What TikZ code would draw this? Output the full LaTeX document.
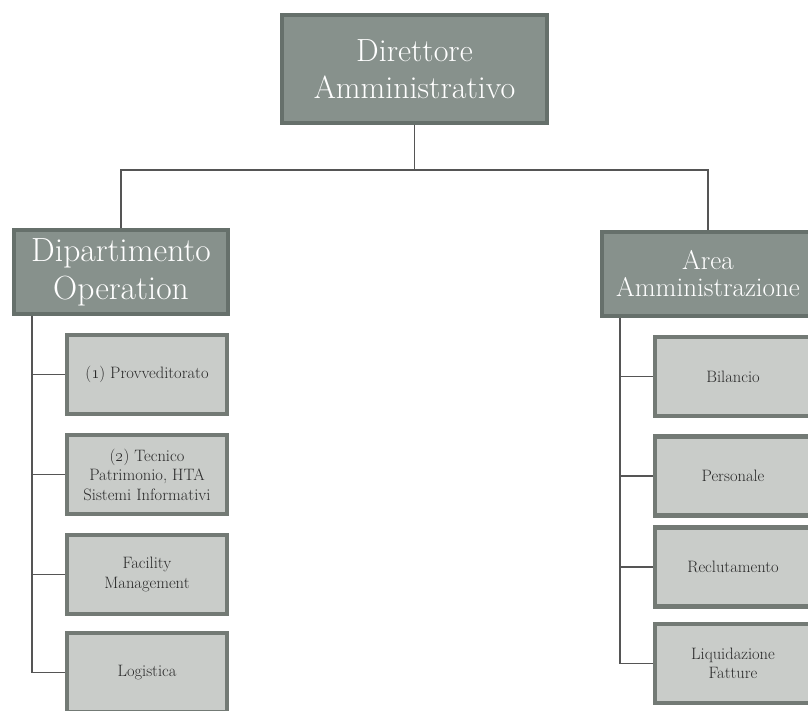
\documentclass[tikz,border=0pt]{standalone}
\definecolor{boxdk}{HTML}{66706B}
\definecolor{fillDk}{HTML}{87918C}
\definecolor{boxlt}{HTML}{737A75}
\definecolor{fillLt}{HTML}{C9CCC9}
\definecolor{txt}{HTML}{2A2A2A}
\definecolor{lineC}{HTML}{555555}
\begin{document}
\begin{tikzpicture}[x=1pt,y=-1pt,
  dark/.style={draw=boxdk, fill=fillDk, line width=4pt, text=white, align=center, inner sep=0pt},
  light/.style={draw=boxlt, fill=fillLt, line width=4.5pt, text=txt, align=center, inner sep=0pt,
    minimum height=79pt, font=\fontsize{16.5}{19.5}\selectfont},
  conn/.style={draw=lineC, line width=1.2pt}]
\useasboundingbox (0,0) rectangle (808,711);
\clip (0,0) rectangle (808,711);
\fill[white] (0,0) rectangle (808,711);

\node[dark, minimum width=265pt, minimum height=108pt, font=\fontsize{32}{37}\selectfont]
  (top) at (414.5,69) {Direttore\\Amministrativo};
\node[dark, minimum width=214pt, minimum height=84pt, font=\fontsize{33.5}{38}\selectfont]
  (dop) at (121,272) {Dipartimento\\Operation};
\node[dark, minimum width=212pt, minimum height=84pt, font=\fontsize{27}{27}\selectfont]
  (aam) at (708,274) {Area\\Amministrazione};

\node[light, minimum width=160pt] (l1) at (147,374.5) {(\oldstylenums{1}) Provveditorato};
\node[light, minimum width=160pt] (l2) at (147,474.5) {(\oldstylenums{2}) Tecnico\\Patrimonio, HTA\\Sistemi Informativi};
\node[light, minimum width=160pt] (l3) at (147,574.5) {Facility\\Management};
\node[light, minimum width=160pt] (l4) at (147,672.5) {Logistica};

\node[light, minimum width=156pt] (r1) at (733,376.5) {Bilancio};
\node[light, minimum width=156pt] (r2) at (733,476) {Personale};
\node[light, minimum width=156pt] (r3) at (733,567) {Reclutamento};
\node[light, minimum width=156pt] (r4) at (733,663.5) {Liquidazione\\Fatture};

\coordinate (hb) at (414.5,170);
\coordinate (lsx) at (32,0);
\coordinate (rsx) at (620,0);

\draw[conn] (top.south) -- (hb);
\draw[conn] (dop.north) |- (hb) -| (aam.north);

\draw[conn] (dop.south -| lsx) |- (l4.west);
\foreach \n in {l1,l2,l3} \draw[conn] (\n.west -| lsx) -- (\n.west);

\draw[conn] (aam.south -| rsx) |- (r4.west);
\foreach \n in {r1,r2,r3} \draw[conn] (\n.west -| rsx) -- (\n.west);
\end{tikzpicture}
\end{document}
